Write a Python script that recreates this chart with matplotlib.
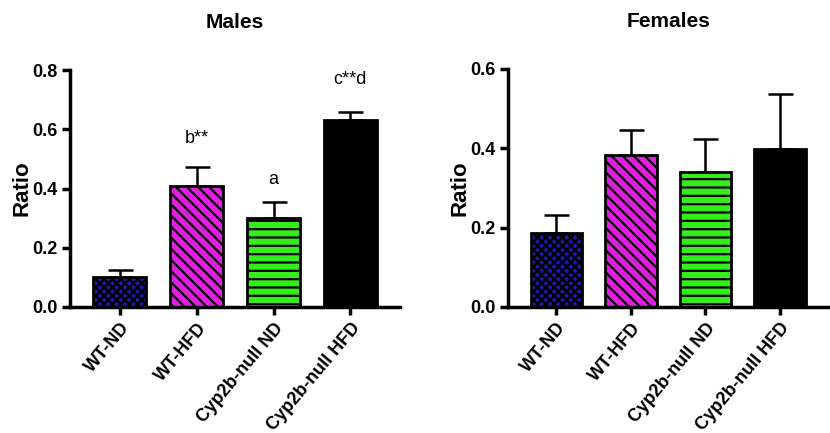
import matplotlib
matplotlib.use("Agg")
import matplotlib.pyplot as plt
import numpy as np

plt.rcParams['font.family'] = ['Liberation Sans', 'DejaVu Sans']
plt.rcParams['hatch.linewidth'] = 1.6

categories = ["WT-ND", "WT-HFD", "Cyp2b-null ND", "Cyp2b-null HFD"]
males_mean = [0.101, 0.408, 0.300, 0.631]
males_err = [0.024, 0.065, 0.054, 0.027]
females_mean = [0.187, 0.383, 0.340, 0.398]
females_err = [0.045, 0.063, 0.084, 0.139]
males_annot = ["", "b**", "a", "c**d"]
males_annot_y = [None, 0.57, 0.43, 0.77]

colors = ["#1a1aa8", "#e020e0", "#33ee1a", "#000000"]
hatches = ["xxxx", "\\\\\\", "--", ""]

fig = plt.figure(figsize=(8.3, 4.33), dpi=100)
ax1 = fig.add_axes([0.0843, 0.291, 0.398, 0.547])
ax2 = fig.add_axes([0.612, 0.291, 0.386, 0.550])

def draw(ax, means, errs, ylim, yticks, title):
    x = np.arange(len(categories))
    bars = ax.bar(x, means, width=0.69, color=colors, edgecolor="black",
                  linewidth=2, zorder=2)
    for b, h in zip(bars, hatches):
        b.set_hatch(h)
    ax.errorbar(x, means, yerr=[np.zeros(len(errs)), errs], fmt="none",
                ecolor="black", elinewidth=1.8, capsize=9, capthick=1.8, zorder=1)
    ax.set_xlim(-0.65, 3.65)
    ax.set_ylim(*ylim)
    ax.set_yticks(yticks)
    ax.set_yticklabels([f"{t:.1f}" for t in yticks], fontsize=13, fontweight="bold")
    ax.set_xticks(x)
    ax.set_xticklabels(categories, rotation=50, ha="right", rotation_mode="anchor",
                       fontsize=13, fontweight="bold")
    for s in ["top", "right"]:
        ax.spines[s].set_visible(False)
    for s in ["left", "bottom"]:
        ax.spines[s].set_linewidth(2.5)
    ax.tick_params(width=2.5, length=6, pad=3)
    ax.set_ylabel("Ratio", fontsize=16, fontweight="bold", labelpad=0)
    ax.set_title(title, fontsize=15, fontweight="bold", pad=30)

draw(ax1, males_mean, males_err, (0, 0.8), [0.0, 0.2, 0.4, 0.6, 0.8], "Males")
draw(ax2, females_mean, females_err, (0, 0.6), [0.0, 0.2, 0.4, 0.6], "Females")

for i, (t, y) in enumerate(zip(males_annot, males_annot_y)):
    if t:
        ax1.text(i, y, t, ha="center", va="center", fontsize=13)

fig.savefig("out.png", dpi=100)
